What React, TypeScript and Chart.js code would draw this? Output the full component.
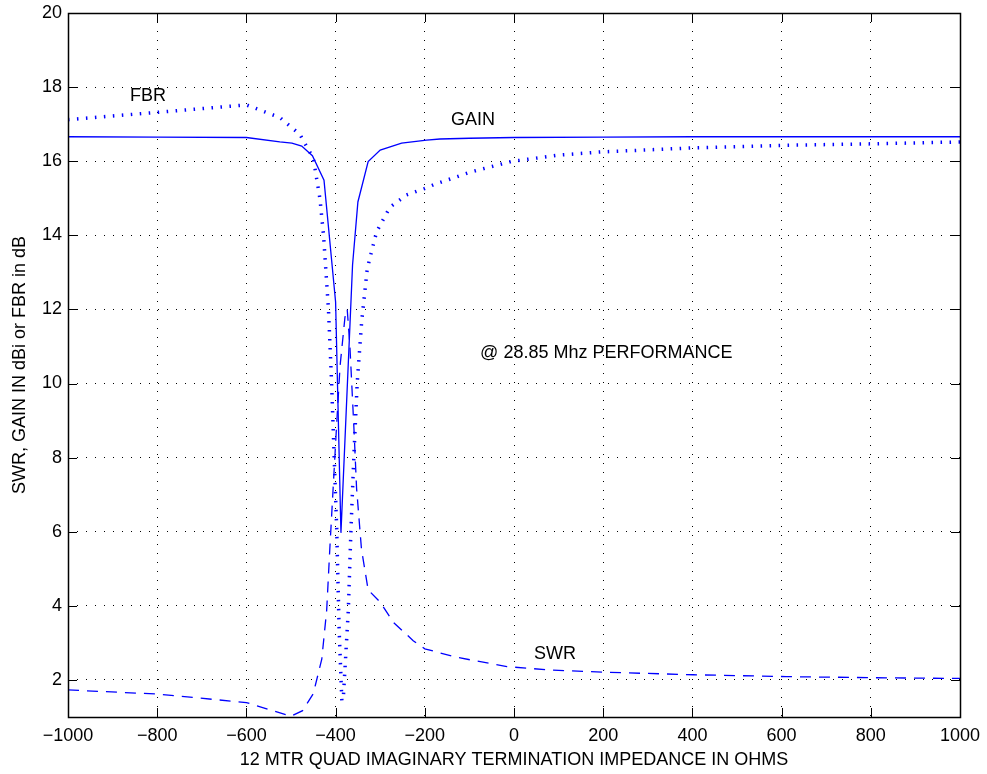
import React, { useEffect, useRef } from "react";
import { Chart, registerables } from "chart.js";

Chart.register(...registerables);

// ---- data ----
const GAIN_X = [-1000, -800, -600, -525, -498, -476, -452, -426, -400, -388, -362, -350, -327, -300, -252, -196, -166, -100, 0, 200, 400, 600, 800, 1000];
const GAIN_Y = [16.66, 16.65, 16.64, 16.52, 16.49, 16.41, 16.15, 15.49, 12.2, 5.97, 13.2, 14.9, 15.99, 16.3, 16.49, 16.57, 16.6, 16.62, 16.64, 16.65, 16.66, 16.66, 16.66, 16.66];

const FBR_X = [-1000, -800, -600, -525, -480, -450, -435, -427, -416, -409, -403, -397.5, -392, -386, -383, -371.5, -365.5, -359, -351.5, -341.5, -329, -308, -278, -241, -201, -181, -100, -7, 96, 195, 402, 610, 807, 1000];
const FBR_Y = [17.12, 17.32, 17.52, 17.18, 16.72, 16.08, 14.98, 13.99, 12.0, 10.03, 7.95, 6.08, 3.33, 1.45, 1.45, 3.88, 6.08, 8.05, 10.03, 11.68, 13.1, 14.1, 14.76, 15.09, 15.26, 15.36, 15.7, 15.99, 16.16, 16.25, 16.36, 16.43, 16.47, 16.52];

const SWR_X = [-1000, -800, -600, -500, -474, -450, -431, -420, -413, -405.5, -398, -390, -379, -374, -368, -359, -353, -342, -327, -300, -270, -226, -200, -128, -16, 79, 200, 402, 610, 807, 1000];
const SWR_Y = [1.73, 1.62, 1.39, 1.02, 1.17, 1.63, 2.56, 3.88, 5.53, 7.18, 8.82, 10.47, 11.79, 12.01, 11.02, 8.82, 7.18, 5.53, 4.43, 4.1, 3.55, 3.06, 2.84, 2.61, 2.36, 2.27, 2.21, 2.14, 2.09, 2.06, 2.04];

const Y_TICKS = [2, 4, 6, 8, 10, 12, 14, 16, 18, 20];
const X_TICKS = [-1000, -800, -600, -400, -200, 0, 200, 400, 600, 800, 1000];

const LABELS = [
  { text: "FBR", x: -861, y: 17.75 },
  { text: "GAIN", x: -141, y: 17.1 },
  { text: "@ 28.85 Mhz PERFORMANCE", x: -76, y: 10.83 },
  { text: "SWR", x: 45, y: 2.71 },
];

const X_TITLE = "12 MTR QUAD IMAGINARY TERMINATION IMPEDANCE IN OHMS";
const Y_TITLE = "SWR, GAIN IN dBi or FBR in dB";

const FONT = "'Liberation Sans', Arial, Helvetica, sans-serif";
const BLUE = "#0000ff";

const zip = (xs: number[], ys: number[]) => xs.map((x, i) => ({ x, y: ys[i] }));

const boxPlugin = {
  id: "matlabBox",
  afterDatasetsDraw(chart: any) {
    const { ctx, chartArea } = chart;
    const { left, right, top, bottom } = chartArea;
    const xs = chart.scales.x;
    const ys = chart.scales.y;
    const L = 9;
    ctx.save();
    ctx.strokeStyle = "#000";
    ctx.lineWidth = 1;
    ctx.setLineDash([]);
    ctx.beginPath();
    X_TICKS.forEach((v) => {
      const px = Math.round(xs.getPixelForValue(v)) + 0.5;
      ctx.moveTo(px, bottom);
      ctx.lineTo(px, bottom - L);
      ctx.moveTo(px, top);
      ctx.lineTo(px, top + L);
    });
    Y_TICKS.forEach((v) => {
      const py = Math.round(ys.getPixelForValue(v)) + 0.5;
      ctx.moveTo(left, py);
      ctx.lineTo(left + L, py);
      ctx.moveTo(right, py);
      ctx.lineTo(right - L, py);
    });
    ctx.stroke();
    ctx.lineWidth = 1.5;
    ctx.strokeRect(Math.round(left) + 0.5, Math.round(top) + 0.5, Math.round(right - left), Math.round(bottom - top));
    ctx.fillStyle = "#000";
    ctx.font = `18px ${FONT}`;
    ctx.textAlign = "left";
    ctx.textBaseline = "middle";
    LABELS.forEach((l) => {
      ctx.fillText(l.text, xs.getPixelForValue(l.x), ys.getPixelForValue(l.y));
    });
    ctx.restore();
  },
};

export default function App() {
  const ref = useRef<HTMLCanvasElement | null>(null);
  useEffect(() => {
    if (!ref.current) return;
    const chart = new Chart(ref.current, {
      type: "line",
      data: {
        datasets: [
          {
            label: "GAIN",
            data: zip(GAIN_X, GAIN_Y),
            borderColor: BLUE,
            borderWidth: 1.3,
            pointRadius: 0,
            tension: 0,
          },
          {
            label: "FBR",
            data: zip(FBR_X, FBR_Y),
            borderColor: BLUE,
            borderWidth: 3.5,
            borderDash: [1.5, 7.5],
            borderCapStyle: "butt",
            pointRadius: 0,
            tension: 0,
          },
          {
            label: "SWR",
            data: zip(SWR_X, SWR_Y),
            borderColor: BLUE,
            borderWidth: 1.3,
            borderDash: [11, 8],
            pointRadius: 0,
            tension: 0,
          },
        ],
      } as any,
      options: {
        animation: false,
        responsive: false,
        devicePixelRatio: 1,
        layout: { padding: { top: 13, right: 27, left: 0, bottom: 0 } },
        plugins: { legend: { display: false }, tooltip: { enabled: false } },
        elements: { line: { fill: false } },
        scales: {
          x: {
            type: "linear",
            min: -1000,
            max: 1000,
            afterBuildTicks: (s: any) => {
              s.ticks = X_TICKS.map((v) => ({ value: v }));
            },
            afterFit: (s: any) => {
              s.height = 57;
              s.paddingLeft = 0;
              s.paddingRight = 0;
            },
            grid: { color: "#000", lineWidth: 1, drawTicks: false },
            border: { display: false, dash: [1, 8] },
            ticks: {
              color: "#000",
              font: { family: FONT, size: 18 },
              padding: 8,
              maxRotation: 0,
              callback: (v: any) => String(v).replace("-", "\u2212"),
            },
            title: {
              display: true,
              text: X_TITLE,
              color: "#000",
              font: { family: FONT, size: 18 },
              padding: { top: 0, bottom: 3 },
            },
          },
          y: {
            type: "linear",
            min: 1,
            max: 20,
            afterBuildTicks: (s: any) => {
              s.ticks = Y_TICKS.map((v) => ({ value: v }));
            },
            afterFit: (s: any) => {
              s.width = 68;
              s.paddingTop = 0;
              s.paddingBottom = 0;
            },
            grid: { color: "#000", lineWidth: 1, drawTicks: false },
            border: { display: false, dash: [1, 8] },
            ticks: {
              color: "#000",
              font: { family: FONT, size: 18 },
              padding: 6,
            },
            title: {
              display: true,
              text: Y_TITLE,
              color: "#000",
              font: { family: FONT, size: 18 },
              padding: { top: 9, bottom: 0 },
            },
          },
        },
      } as any,
      plugins: [boxPlugin],
    });
    return () => chart.destroy();
  }, []);
  return (
    <div style={{ position: "fixed", left: 0, top: 0, width: 987, height: 774, background: "#fff" }}>
      <canvas ref={ref} width={987} height={774} style={{ width: 987, height: 774 }} />
    </div>
  );
}
